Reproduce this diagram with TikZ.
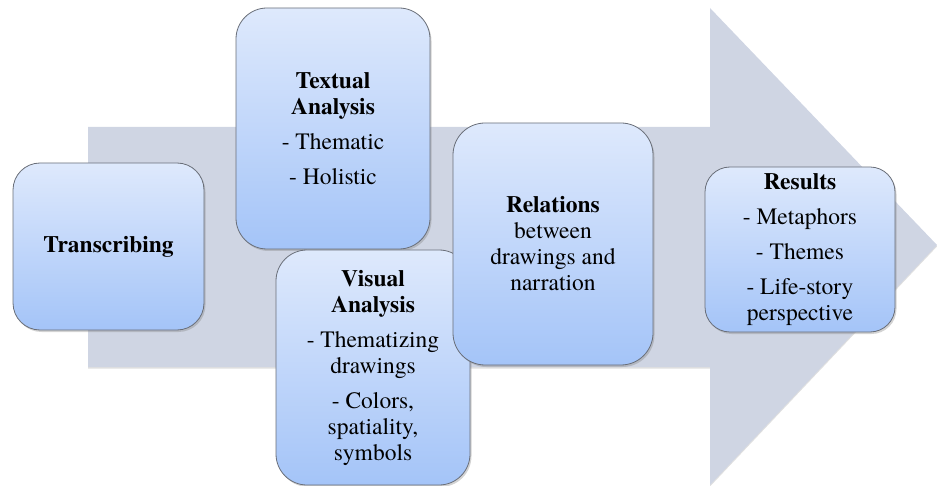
\documentclass[tikz,border=0pt]{standalone}
\usepackage{fontspec}
\setmainfont{texgyretermes}[Extension=.otf, UprightFont=*-regular, BoldFont=*-bold, ItalicFont=*-italic, BoldItalicFont=*-bolditalic]
\usetikzlibrary{shadows}
\definecolor{arrowgray}{RGB}{207,213,227}
\definecolor{boxtop}{RGB}{222,233,252}
\definecolor{boxbot}{RGB}{164,196,248}
\definecolor{boxborder}{RGB}{105,110,120}
\tikzset{
  box/.style={draw=boxborder, line width=0.8pt, top color=boxtop, bottom color=boxbot,
    align=center, inner sep=0pt, text=black,
    font=\fontsize{23.5}{26}\selectfont,
    drop shadow={shadow xshift=1.5pt, shadow yshift=-2pt, opacity=0.35}},
}
\begin{document}
\begin{tikzpicture}[x=1pt,y=-1pt]
\useasboundingbox (0,0) rectangle (937,486);
% big arrow
\fill[arrowgray, drop shadow={shadow xshift=0pt, shadow yshift=-1.5pt, opacity=0.25}]
  (88,127) -- (710,127) -- (710,8) -- (937,245) -- (710,485) -- (710,367) -- (88,367) -- cycle;
% boxes
\node[box, rounded corners=27pt, minimum width=191pt, minimum height=167pt] (trans) at (108.5,246.5)
  {\textbf{Transcribing}};
\node[box, rounded corners=31pt, minimum width=194pt, minimum height=241pt] (textual) at (333,128.5)
  {\textbf{Textual}\\\textbf{Analysis}\\[9pt]- Thematic\\[9pt]- Holistic};
\node[box, rounded corners=31pt, minimum width=194pt, minimum height=235pt] (visual) at (373,367.5)
  {\textbf{Visual}\\\textbf{Analysis}\\[9pt]- Thematizing\\drawings\\[9pt]- Colors,\\spatiality,\\symbols};
\node[box, rounded corners=32pt, minimum width=200pt, minimum height=242pt] (rel) at (553,244)
  {\textbf{Relations}\\between\\drawings and\\narration};
\node[box, rounded corners=25pt, minimum width=190pt, minimum height=165pt] (res) at (800,249.5)
  {\textbf{Results}\\[9pt]- Metaphors\\[9pt]- Themes\\[9pt]- Life-story\\perspective};
\end{tikzpicture}
\end{document}
